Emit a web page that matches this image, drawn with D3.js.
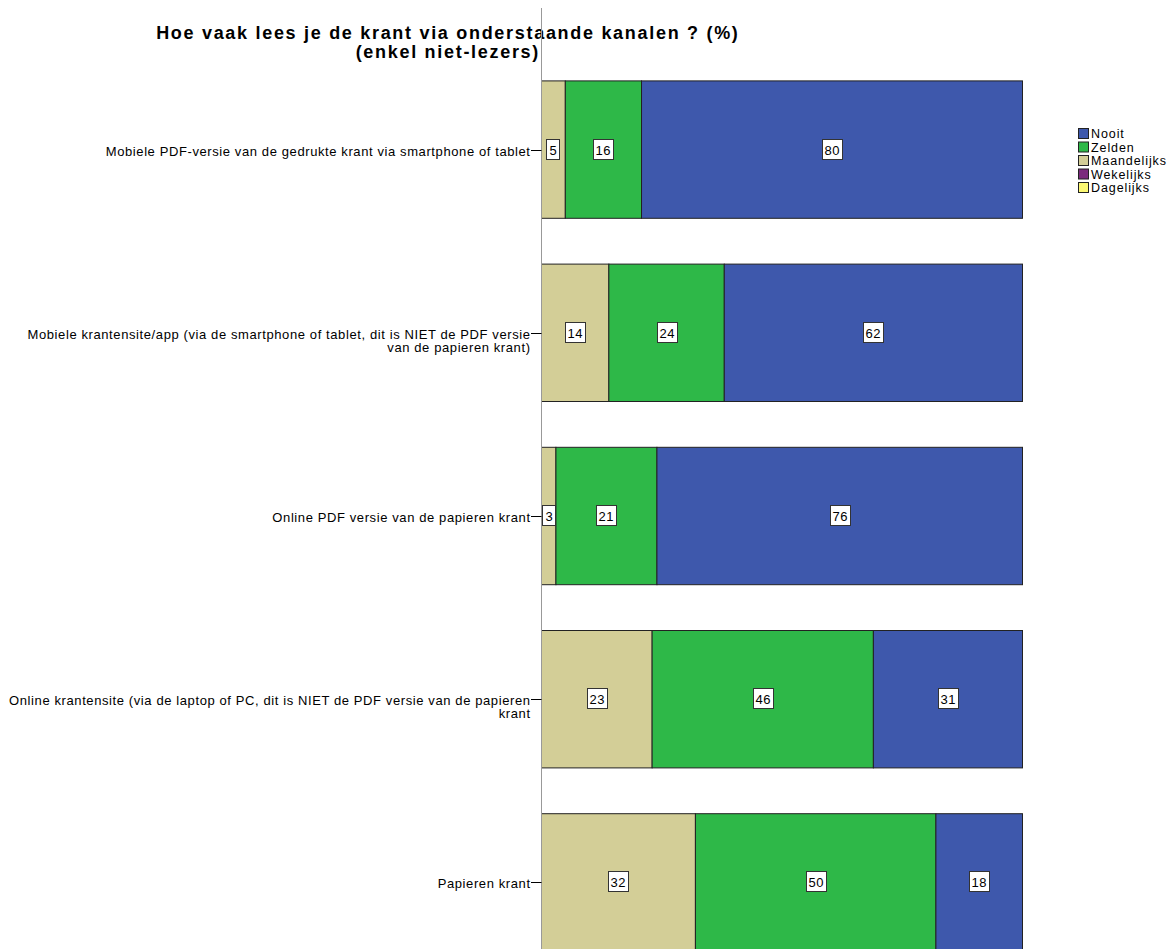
<!DOCTYPE html>
<html>
<head>
<meta charset="utf-8">
<script src="https://cdn.jsdelivr.net/npm/d3@7"></script>
<style>
  html, body { margin: 0; padding: 0; background: #fff; }
  svg { display: block; font-family: "Liberation Sans", Arial, sans-serif; }
</style>
</head>
<body>
<svg id="chart" width="1176" height="949"></svg>
<script>
// Channels (rows, top to bottom)
const categories = [
  "Mobiele PDF-versie van de gedrukte krant via smartphone of tablet",
  "Mobiele krantensite/app (via de smartphone of tablet, dit is NIET de PDF versie van de papieren krant)",
  "Online PDF versie van de papieren krant",
  "Online krantensite (via de laptop of PC, dit is NIET de PDF versie van de papieren krant",
  "Papieren krant"
];

// Frequency answers, in stacking order from the axis outwards
const series = ["Dagelijks", "Wekelijks", "Maandelijks", "Zelden", "Nooit"];

// Percentages per channel
const dagelijks   = [0, 0, 0, 0, 0];
const wekelijks   = [0, 0, 0, 0, 0];
const maandelijks = [5, 14, 3, 23, 32];
const zelden      = [16, 24, 21, 46, 50];
const nooit       = [80, 62, 76, 31, 18];

// Legend order (top to bottom)
const legendOrder = ["Nooit", "Zelden", "Maandelijks", "Wekelijks", "Dagelijks"];

const colors = {
  "Nooit": "#3e58ac",
  "Zelden": "#2eb848",
  "Maandelijks": "#d3ce97",
  "Wekelijks": "#7b2b7d",
  "Dagelijks": "#fbf873"
};

const titleLines = ["Hoe vaak lees je de krant via onderstaande kanalen ? (%)", "(enkel niet-lezers)"];

const rows = categories.map((c, i) => ({
  category: c,
  "Dagelijks": dagelijks[i],
  "Wekelijks": wekelijks[i],
  "Maandelijks": maandelijks[i],
  "Zelden": zelden[i],
  "Nooit": nooit[i]
}));

const svg = d3.select("#chart");

const x = d3.scaleLinear().domain([0, 1]).range([541.5, 1022.5]);
const y = d3.scaleBand().domain(categories).range([58, 974]).paddingInner(0.25).paddingOuter(0.125);

// Each row sums to 100% of its own total
const stacked = d3.stack().keys(series).offset(d3.stackOffsetExpand)(rows);

// Title
const titleLS = 1.7;
const title = svg.append("text")
  .attr("text-anchor", "middle")
  .attr("font-weight", "bold")
  .attr("font-size", 18)
  .attr("letter-spacing", titleLS)
  .attr("fill", "#000");
titleLines.forEach((t, i) => {
  title.append("tspan").attr("x", 447 + titleLS / 2).attr("y", 38.5 + i * 19).text(t);
});

// Bars
const layers = svg.append("g").selectAll("g")
  .data(stacked)
  .join("g")
  .attr("fill", d => colors[d.key]);

layers.selectAll("rect")
  .data(d => d.filter(s => s[1] - s[0] > 0))
  .join("rect")
  .attr("x", d => x(d[0]))
  .attr("y", d => y(d.data.category))
  .attr("width", d => x(d[1]) - x(d[0]))
  .attr("height", y.bandwidth())
  .attr("stroke", "#222")
  .attr("stroke-width", 1);

// Value labels in boxed white tags
const labelData = [];
stacked.forEach(layer => {
  layer.forEach(s => {
    const v = s.data[layer.key];
    if (v > 0) labelData.push({ s, v });
  });
});

const valueLS = 0.5;
const tags = svg.append("g").selectAll("g")
  .data(labelData)
  .join("g")
  .attr("transform", d => `translate(${Math.round((x(d.s[0]) + x(d.s[1])) / 2)},${Math.round(y(d.s.data.category) + y.bandwidth() / 2)})`);

tags.append("text")
  .attr("text-anchor", "middle")
  .attr("x", valueLS / 2)
  .attr("dy", "0.36em")
  .attr("font-size", 13)
  .attr("letter-spacing", valueLS)
  .attr("fill", "#000")
  .text(d => d.v);

tags.each(function () {
  const g = d3.select(this);
  const bb = g.select("text").node().getBBox();
  g.insert("rect", "text")
    .attr("x", Math.round(bb.x - 3) + 0.5)
    .attr("y", -10.5)
    .attr("width", Math.round(bb.width + 5))
    .attr("height", 20)
    .attr("fill", "#fff")
    .attr("stroke", "#333")
    .attr("stroke-width", 1);
});

// Category axis: vertical line plus ticks
svg.append("line")
  .attr("x1", 541.5).attr("x2", 541.5)
  .attr("y1", 8).attr("y2", 949)
  .attr("stroke", "#999");

const labelLS = 0.6;
const maxLabelWidth = 526;
const catG = svg.append("g").selectAll("g")
  .data(categories)
  .join("g")
  .attr("transform", d => `translate(0,${Math.round(y(d) + y.bandwidth() / 2)})`);

catG.append("line")
  .attr("x1", 531).attr("x2", 541.5)
  .attr("y1", 0.5).attr("y2", 0.5)
  .attr("stroke", "#000");

catG.each(function (d) {
  const g = d3.select(this);
  const text = g.append("text")
    .attr("text-anchor", "end")
    .attr("font-size", 13)
    .attr("letter-spacing", labelLS)
    .attr("fill", "#000");
  // word-wrap the label to the space left of the axis
  const words = d.split(" ");
  const lines = [];
  let line = [];
  const probe = text.append("tspan");
  words.forEach(w => {
    line.push(w);
    probe.text(line.join(" "));
    if (probe.node().getComputedTextLength() > maxLabelWidth && line.length > 1) {
      line.pop();
      lines.push(line.join(" "));
      line = [w];
    }
  });
  lines.push(line.join(" "));
  probe.remove();
  lines.forEach((l, i) => {
    text.append("tspan").attr("x", 530 + labelLS).attr("y", 5.5 + i * 13.5).text(l);
  });
});

// Legend
const legend = svg.append("g").attr("transform", "translate(1078,128)");
const items = legend.selectAll("g")
  .data(legendOrder)
  .join("g")
  .attr("transform", (d, i) => `translate(0,${i * 13.5})`);
items.append("rect")
  .attr("x", 0.5).attr("y", 0.5)
  .attr("width", 10).attr("height", 10)
  .attr("fill", d => colors[d])
  .attr("stroke", "#222");
items.append("text")
  .attr("x", 13).attr("y", 10)
  .attr("font-size", 12.5)
  .attr("letter-spacing", 0.9)
  .attr("fill", "#000")
  .text(d => d);
</script>
</body>
</html>
